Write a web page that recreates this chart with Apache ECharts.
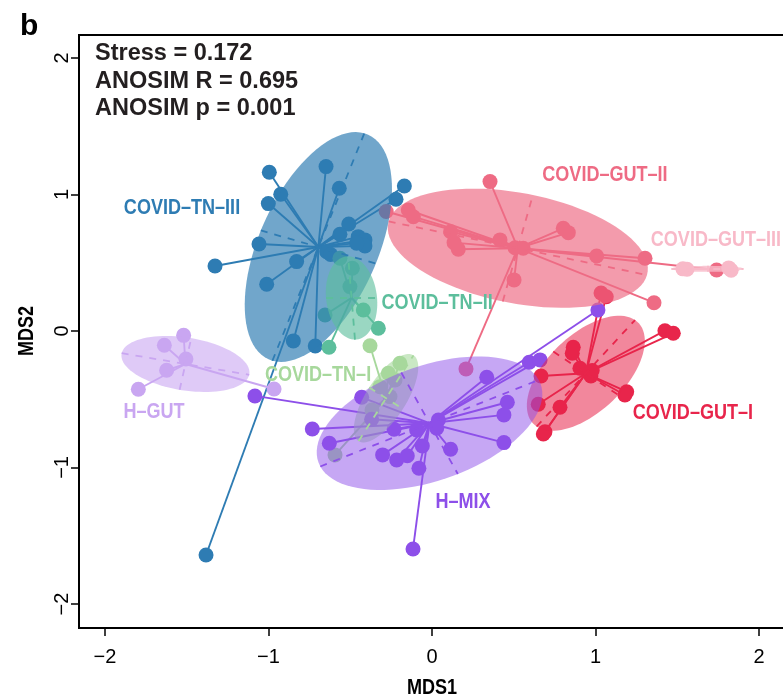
<!DOCTYPE html>
<html>
<head>
<meta charset="utf-8">
<script src="https://cdn.jsdelivr.net/npm/echarts@6/dist/echarts.min.js"></script>
<style>html,body{margin:0;padding:0;background:#fff}#c{width:783px;height:700px}</style>
</head>
<body>
<div id="c"></div>
<script>
// ---------- data ----------
const groupNames = ['COVID–GUT–I','COVID–GUT–II','COVID–GUT–III','COVID–TN–III','COVID–TN–II','COVID–TN–I','H–GUT','H–MIX'];

const ptsGutI = [[1.034,0.278],[1.066,0.251],[0.864,-0.119],[0.858,-0.163],[1.425,0.002],[1.476,-0.017],
  [0.905,-0.273],[0.972,-0.330],[0.980,-0.290],[0.667,-0.330],[1.191,-0.445],[1.180,-0.469],[0.783,-0.559],
  [0.650,-0.537],[0.681,-0.755],[0.691,-0.738]];
const ptsGutII = [[0.355,1.094],[-0.145,0.886],[-0.114,0.837],[0.114,0.727],[0.135,0.647],[0.161,0.599],
  [0.416,0.667],[0.508,0.610],[0.558,0.606],[0.803,0.752],[0.834,0.720],[1.007,0.549],[1.303,0.533],
  [0.502,0.374],[1.358,0.207],[1.741,0.447],[0.208,-0.278],[-0.280,0.875]];
const ptsGutIII = [[1.535,0.455],[1.560,0.452],[1.815,0.462],[1.830,0.445]];
const ptsTnIII = [[-0.995,1.163],[-0.925,1.001],[-1.001,0.933],[-0.648,1.204],[-0.567,1.045],[-0.169,1.062],
  [-0.220,0.965],[-0.509,0.784],[-0.563,0.708],[-0.451,0.691],[-0.410,0.667],[-0.410,0.623],[-0.461,0.643],
  [-1.058,0.637],[-1.327,0.476],[-0.828,0.508],[-0.644,0.581],[-0.620,0.560],[-1.011,0.342],[-0.848,-0.073],
  [-0.714,-0.110],[-1.382,-1.641]];
const ptsTnII = [[-0.563,0.533],[-0.487,0.459],[-0.502,0.325],[-0.420,0.154],[-0.328,0.020],[-0.654,0.117],[-0.630,-0.119]];
const ptsTnI = [[-0.379,-0.108],[-0.196,-0.237],[-0.267,-0.310],[-0.318,-0.408],[-0.257,-0.481],[-0.226,-0.359],
  [-0.367,-0.579],[-0.593,-0.908]];
const ptsHGut = [[-1.519,-0.032],[-1.637,-0.105],[-1.505,-0.205],[-1.623,-0.288],[-1.796,-0.427],[-0.966,-0.425]];
const ptsHMix = [[-0.430,-0.486],[-0.369,-0.647],[-0.732,-0.718],[-0.628,-0.823],[-0.302,-0.908],[-0.216,-0.945],
  [-0.151,-0.914],[-0.080,-1.006],[-0.059,-0.842],[-0.232,-0.720],[-0.094,-0.725],[0.039,-0.652],[0.029,-0.713],
  [0.114,-0.867],[0.335,-0.339],[0.461,-0.522],[0.440,-0.615],[0.440,-0.818],[0.595,-0.229],[0.661,-0.212],
  [-0.116,-1.597],[-1.083,-0.476],[1.015,0.154]];
const groupPoints = [ptsGutI, ptsGutII, ptsGutIII, ptsTnIII, ptsTnII, ptsTnI, ptsHGut, ptsHMix];

// group centroids and ellipse semi-axes (data units)
const centroids   = [[0.941,-0.310],[0.525,0.606],[1.685,0.455],[-0.695,0.615],[-0.492,0.242],[-0.281,-0.493],[-1.508,-0.242],[-0.015,-0.676]];
const ellipseMajor = [[0.301,0.390],[0.790,-0.196],[0.221,0.0],[0.281,0.833],[-0.021,0.305],[0.168,0.314],[0.390,-0.079],[0.668,0.317]];
const ellipseMinor = [[0.199,-0.159],[0.092,0.390],[0.0,0.022],[0.352,-0.121],[0.156,0.0],[0.103,-0.079],[0.0355,0.189],[0.173,-0.372]];

// group label anchors (data units)
const labelAnchors = [[1.596,-0.601],[1.058,1.143],[1.737,0.667],[-1.529,0.901],[0.031,0.205],[-0.697,-0.322],[-1.700,-0.593],[0.190,-1.253]];

const tickValues = [-2,-1,0,1,2];
const statLines = ['Stress = 0.172','ANOSIM R = 0.695','ANOSIM p = 0.001'];

// ---------- style ----------
const colors = ['#E8254B','#EE6B84','#F8B9C8','#2E7CB3','#5CBE9C','#A7D89C','#C9A6F1','#8D4FE9'];
const ellipseAlpha = [0.55,0.68,0.8,0.68,0.62,0.6,0.6,0.5];
const sans = "'Liberation Sans',Arial,sans-serif";
const NARROW = 0.82;
const fmt = v => (v < 0 ? '−' + Math.abs(v) : String(v));

const series = [];
groupPoints.forEach((pts, i) => {
  const c = centroids[i];
  series.push({
    type: 'lines', coordinateSystem: 'cartesian2d', z: 1, silent: true,
    lineStyle: { color: colors[i], width: 1.9, opacity: 1 },
    data: pts.map(p => ({ coords: [c, p] }))
  });
});
groupPoints.forEach((pts, i) => {
  series.push({
    type: 'scatter', z: 2, silent: true, symbolSize: 15,
    itemStyle: { color: colors[i], opacity: 1 },
    data: pts
  });
});
groupPoints.forEach((pts, i) => {
  const c = centroids[i], a = ellipseMajor[i], b = ellipseMinor[i];
  series.push({
    type: 'custom', z: 3, silent: true,
    data: [c],
    renderItem: (params, api) => {
      const poly = [];
      for (let k = 0; k <= 90; k++) {
        const t = k / 90 * 2 * Math.PI;
        poly.push(api.coord([c[0] + a[0] * Math.cos(t) + b[0] * Math.sin(t),
                             c[1] + a[1] * Math.cos(t) + b[1] * Math.sin(t)]));
      }
      return { type: 'polygon', shape: { points: poly }, style: { fill: colors[i], opacity: ellipseAlpha[i] } };
    }
  });
});
groupPoints.forEach((pts, i) => {
  const c = centroids[i], a = ellipseMajor[i], b = ellipseMinor[i];
  series.push({
    type: 'lines', coordinateSystem: 'cartesian2d', z: 4, silent: true,
    lineStyle: { color: colors[i], width: 1.8, type: [7, 7], opacity: 1 },
    data: [
      { coords: [[c[0] - a[0], c[1] - a[1]], [c[0] + a[0], c[1] + a[1]]] },
      { coords: [[c[0] - b[0], c[1] - b[1]], [c[0] + b[0], c[1] + b[1]]] }
    ]
  });
});

const chart = echarts.init(document.getElementById('c'));
chart.setOption({
  animation: false,
  backgroundColor: '#fff',
  grid: { left: 79, top: 35, width: 721, height: 593, outerBoundsMode: 'none', containLabel: false,
          show: true, borderColor: '#000', borderWidth: 2, backgroundColor: 'transparent' },
  xAxis: {
    type: 'value', min: -2.159, max: 2.251,
    axisLine: { show: true, onZero: false, lineStyle: { color: '#000', width: 2 } },
    axisTick: { show: true, length: 8, lineStyle: { color: '#000', width: 1.5 }, customValues: tickValues },
    axisLabel: { show: true, margin: 19, fontFamily: sans, fontSize: 20, color: '#000', formatter: fmt, customValues: tickValues },
    splitLine: { show: false }
  },
  yAxis: {
    type: 'value', min: -2.176, max: 2.168,
    axisLine: { show: true, onZero: false, lineStyle: { color: '#000', width: 2 } },
    axisTick: { show: true, length: 8, lineStyle: { color: '#000', width: 1.5 }, customValues: tickValues },
    axisLabel: { show: true, margin: 7, rotate: 90, fontFamily: sans, fontSize: 20, color: '#000', formatter: fmt, customValues: tickValues },
    splitLine: { show: false }
  },
  series: series
});

// text overlay: panel letter, statistics, axis titles, group labels (condensed via scaleX)
const gfx = [
  { type: 'text', x: 20, y: 12, z: 10, style: { text: 'b', font: 'bold 30px ' + sans, fill: '#000' } },
  ...statLines.map((t, k) => ({
    type: 'text', x: 95, y: 42 + k * 27.5, z: 10,
    style: { text: t, font: 'bold 23.5px ' + sans, fill: '#231F20' }
  })),
  { type: 'text', x: 432, y: 688, z: 10, scaleX: NARROW,
    style: { text: 'MDS1', font: 'bold 22px ' + sans, fill: '#000', align: 'center', verticalAlign: 'middle', textAlign: 'center', textVerticalAlign: 'middle' } },
  { type: 'text', x: 27, y: 331, z: 10, scaleX: NARROW, rotation: Math.PI / 2,
    style: { text: 'MDS2', font: 'bold 22px ' + sans, fill: '#000', align: 'center', verticalAlign: 'middle', textAlign: 'center', textVerticalAlign: 'middle' } }
];
labelAnchors.forEach((p, i) => {
  const px = chart.convertToPixel({ gridIndex: 0 }, p);
  gfx.push({ type: 'text', x: px[0], y: px[1], z: 10, scaleX: NARROW,
    style: { text: groupNames[i], font: 'bold 22px ' + sans, fill: colors[i], align: 'center', verticalAlign: 'middle', textAlign: 'center', textVerticalAlign: 'middle' } });
});
chart.setOption({ graphic: gfx });
</script>
</body>
</html>
